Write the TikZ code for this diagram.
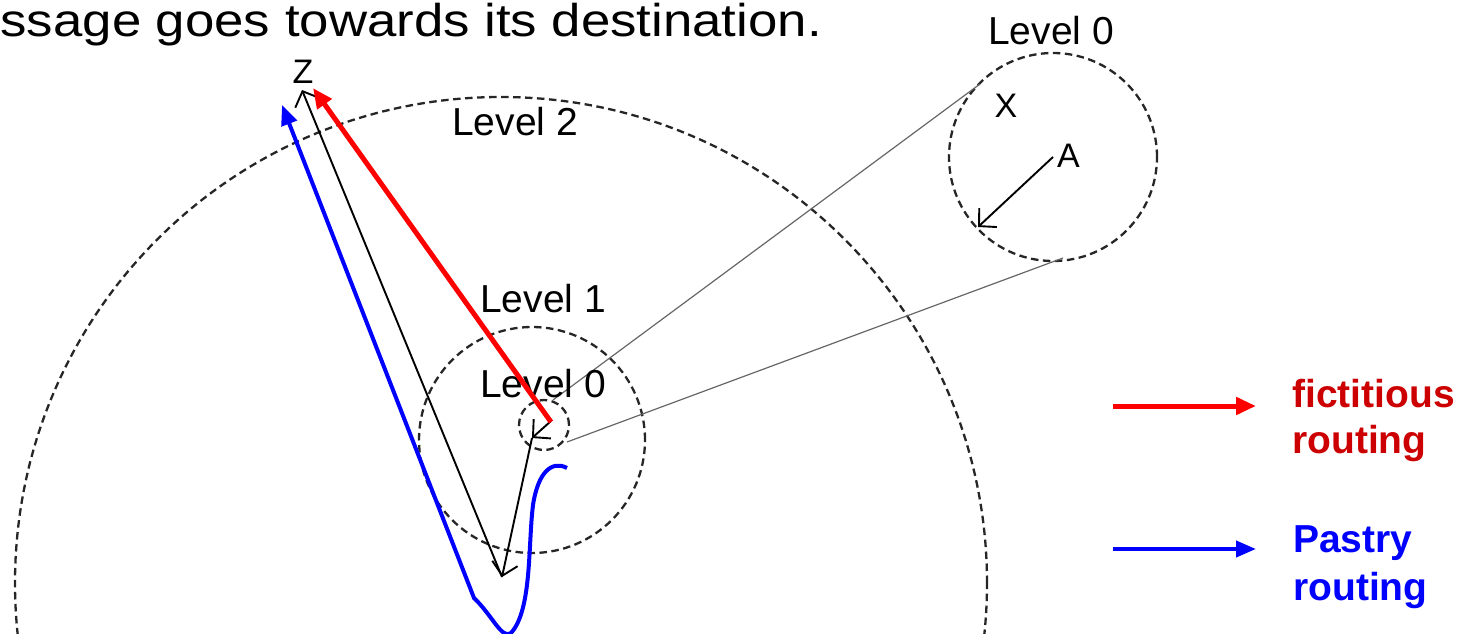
\documentclass[tikz,border=0pt]{standalone}
\usepackage{fontspec}
\setmainfont{Liberation Sans}
\usetikzlibrary{arrows.meta}
\definecolor{legred}{RGB}{204,0,0}
\begin{document}
\begin{tikzpicture}[x=1pt,y=-1pt,
  ring/.style={draw=black!85,line width=2.3pt,dash pattern=on 7.5pt off 4.5pt},
  link/.style={draw=black!60,line width=1.2pt},
  hop/.style={draw=black,line width=1.9pt,-{Straight Barb[angle=92:18pt]}},
  lvl/.style={inner sep=0pt,anchor=base west,font=\fontsize{39}{41}\selectfont},
  pt/.style={inner sep=0pt,anchor=base,font=\fontsize{34}{36}\selectfont},
  fict/.style={draw=red,line width=5pt,-{Triangle[length=20pt,width=17pt]}},
  pastry/.style={draw=blue,line width=4pt,-{Triangle[length=20pt,width=16pt]}},
  legtxt/.style={inner sep=0pt,anchor=base west,font=\fontsize{39}{41}\selectfont\bfseries}]
\useasboundingbox (0,0) rectangle (1461,634);
\clip (0,0) rectangle (1461,634);
% centres
\coordinate (c2) at (501,583);
\coordinate (c1) at (532,440);
\coordinate (c0) at (544,425);
\coordinate (cR) at (1053,157);
% circles
\draw[ring] (c2) circle[radius=486pt];
\draw[ring] (c1) circle[radius=113pt];
\draw[ring] (c0) circle[radius=25pt];
\draw[ring] (cR) circle[radius=104pt];
% zoom connectors
\coordinate (u0) at (553,400);
\coordinate (uR) at (980,84);
\coordinate (l0) at (567,442);
\coordinate (lR) at (1063,258);
\draw[link] (u0) -- (uR);
\draw[link] (l0) -- (lR);
% title
\node[inner sep=0pt,anchor=base east,font=\fontsize{46}{48}\selectfont] (title) at (822,37) {\scalebox{1.147}[1]{ssage goes towards its destination.}};
% labels
\node[lvl] (lab2) at (452,135) {Level 2};
\node[lvl] (lab1) at (480,312) {Level 1};
\node[lvl] (lab0) at (480,397) {Level 0};
\node[lvl] (lab0r) at (988,45) {Level 0};
\node[pt] (Z) at (303,84) {Z};
\node[pt] (X) at (1006,117) {X};
\node[pt,anchor=base west] (A) at (1057,167) {A};
% route points
\coordinate (aS) at (1053,157);
\coordinate (aT) at (978,227);
\coordinate (s0) at (551,421);
\coordinate (s1) at (532,438);
\coordinate (s2) at (502,577);
\coordinate (zt) at (302,90);
\draw[hop] (aS) -- (aT);
\draw[hop] (s0) -- (s1);
\draw[hop] (s1) -- (s2);
\draw[hop] (s2) -- (zt);
% fictitious routing
\coordinate (rS) at (551,422);
\coordinate (rT) at (313,88);
\draw[fict] (rS) -- (rT);
% pastry routing
\coordinate (bS) at (567,468);
\coordinate (bK) at (474,598);
\coordinate (bT) at (282,105);
\draw[pastry] (bS) .. controls (552,460) and (538,472) .. (533,505)
  .. controls (528,545) and (532,610) .. (511,633)
  .. controls (502,640) and (492,615) .. (bK) -- (bT);
% legend
\coordinate (lr1) at (1113,406);
\coordinate (lr2) at (1256,406);
\coordinate (lb1) at (1113,549);
\coordinate (lb2) at (1256,549);
\draw[fict] (lr1) -- (lr2);
\draw[pastry] (lb1) -- (lb2);
\node[legtxt,text=legred] (f1) at (1292,407) {fictitious};
\node[legtxt,text=legred] (f2) at (1292,453) {routing};
\node[legtxt,text=blue] (p1) at (1293,552) {Pastry};
\node[legtxt,text=blue] (p2) at (1293,600) {routing};
\end{tikzpicture}
\end{document}
